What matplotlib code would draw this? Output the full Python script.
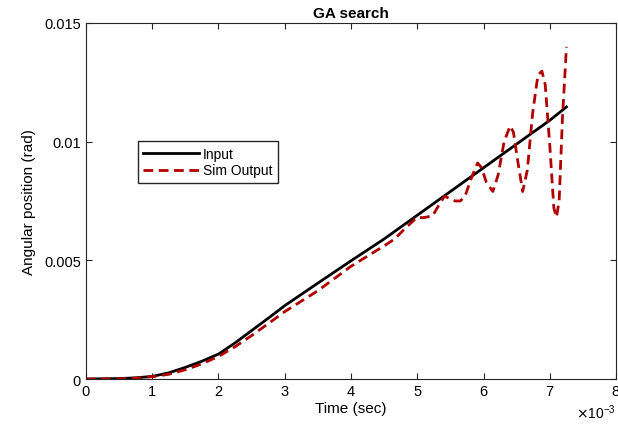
import numpy as np
import matplotlib
matplotlib.use('Agg')
import matplotlib.pyplot as plt
from matplotlib.ticker import ScalarFormatter, FuncFormatter

plt.rcParams['font.family'] = ['Liberation Sans', 'DejaVu Sans']

# time in units of 1e-3 s
t_in = [0, 0.5, 0.75, 1.0, 1.25, 1.5, 1.75, 2.0, 2.25, 2.5, 2.75, 3.0, 3.5, 4.0,
        4.5, 5.0, 5.5, 6.0, 6.5, 7.0, 7.25]
y_in = [0, 0.00002, 0.00005, 0.00011, 0.00026, 0.00049, 0.00075, 0.00105, 0.00152,
        0.00204, 0.00256, 0.00309, 0.00404, 0.00498, 0.0059, 0.0069, 0.0079, 0.0089,
        0.0099, 0.0109, 0.01146]

t_sim = [0, 0.5, 0.75, 1.0, 1.25, 1.5, 1.75, 2.0, 2.25, 2.5, 2.75, 3.0, 3.5, 4.0,
         4.5, 4.66, 4.8, 4.99, 5.1, 5.23, 5.32, 5.41, 5.49, 5.57, 5.65, 5.72, 5.82,
         5.91, 5.97, 6.04, 6.14, 6.22, 6.31, 6.40, 6.45, 6.52, 6.59, 6.66, 6.74, 6.82,
         6.88, 6.93, 7.0, 7.06, 7.10, 7.14, 7.19, 7.25]
y_sim = [0, 0.00001, 0.00004, 0.0001, 0.0002, 0.00039, 0.00064, 0.00095, 0.00136,
         0.00183, 0.00233, 0.00284, 0.00372, 0.00475, 0.00561, 0.0059, 0.0063, 0.0068,
         0.0068, 0.00687, 0.0073, 0.0077, 0.0076, 0.0075, 0.0075, 0.0077, 0.0085,
         0.0091, 0.0089, 0.0083, 0.0079, 0.0086, 0.0100, 0.01066, 0.0104, 0.0091,
         0.0079, 0.0088, 0.0112, 0.0128, 0.01297, 0.0124, 0.0098, 0.0072, 0.00682,
         0.0075, 0.0110, 0.01399]

t_in = np.array(t_in) * 1e-3
t_sim = np.array(t_sim) * 1e-3

fig = plt.figure(figsize=(6.18, 4.27), dpi=100)
ax = fig.add_axes([0.139, 0.110, 0.858, 0.834])

ax.plot(t_in, y_in, color='black', lw=2, label='Input')
ax.plot(t_sim, y_sim, color='#B00000', lw=2, ls=(0, (3.5, 2)), label='Sim Output')

ax.set_xlim(0, 0.008)
ax.set_ylim(0, 0.015)
ax.set_xticks(np.arange(0, 0.0081, 0.001))
ax.set_yticks([0, 0.005, 0.01, 0.015])
ax.yaxis.set_major_formatter(FuncFormatter(lambda v, p: '%g' % round(v, 4)))
fmt = ScalarFormatter(useMathText=True)
fmt.set_powerlimits((-2, 2))
ax.xaxis.set_major_formatter(fmt)
ax.xaxis.get_offset_text().set_fontsize(10)

ax.tick_params(direction='in', top=True, right=True, labelsize=10.5, length=4,
               color='#262626')
for s in ax.spines.values():
    s.set_color('#262626')
    s.set_linewidth(0.8)

ax.set_title('GA search', fontsize=11, fontweight='bold', pad=4)
ax.set_xlabel('Time (sec)', fontsize=11, labelpad=2)
ax.set_ylabel('Angular position (rad)', fontsize=11, labelpad=6)

ax.legend(loc='upper left', bbox_to_anchor=(0.098, 0.668), fontsize=10,
          frameon=True, fancybox=False, edgecolor='#262626', framealpha=1,
          handlelength=4, borderpad=0.4, labelspacing=0.2, handletextpad=0.3,
          borderaxespad=0)

fig.savefig('out.png', dpi=100)
